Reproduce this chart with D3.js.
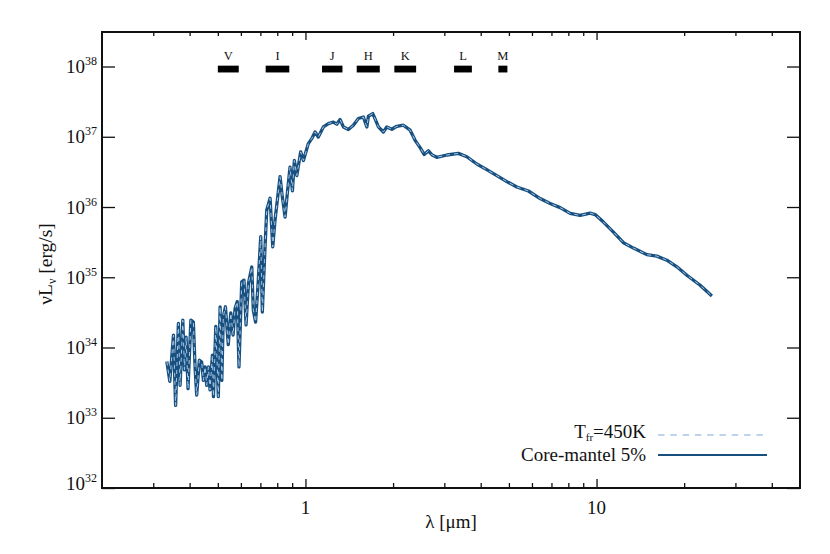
<!DOCTYPE html>
<html>
<head>
<meta charset="utf-8">
<script src="https://cdn.jsdelivr.net/npm/d3@7"></script>
<style>
  html, body { margin: 0; padding: 0; background: #fff; }
  svg { display: block; font-family: "Liberation Serif", "Times New Roman", serif; }
</style>
</head>
<body>
<svg id="chart" width="830" height="554"></svg>
<script>
// ---------- data ----------
const xDomain = [0.2, 50];                // wavelength range, micron
const yDomain = [1e32, 3.1e38];           // nu L_nu range, erg/s
const xMajorTicks = [1, 10];
const xMinorTicks = [0.3, 0.4, 0.5, 0.6, 0.7, 0.8, 0.9, 2, 3, 4, 5, 6, 7, 8, 9, 20, 30, 40];
const yMajorTicks = [1e32, 1e33, 1e34, 1e35, 1e36, 1e37, 1e38];

// photometric bands: [name, lambda_min, lambda_max]
const bandNames = ["V", "I", "J", "H", "K", "L", "M"];
const bandLo    = [0.50, 0.73, 1.14, 1.50, 2.02, 3.24, 4.60];
const bandHi    = [0.59, 0.88, 1.34, 1.80, 2.40, 3.73, 4.94];
const bandLevel = 9.2e37;

// SED, core-mantel 5% model: [lambda (micron), nuL_nu (erg/s)]
const sedCoreMantel = [
  [0.334,6.3e33],[0.342,3.3e33],[0.352,1.5e34],[0.358,1.5e33],[0.366,2.2e34],[0.371,2.9e33],
  [0.379,2.45e34],[0.384,4.8e33],[0.389,1.4e34],[0.395,2.6e33],[0.404,2.45e34],[0.412,2.3e34],
  [0.418,4.8e33],[0.423,2.1e33],[0.432,6.6e33],[0.440,6.2e33],[0.446,3.4e33],[0.452,5.3e33],
  [0.458,2.9e33],[0.464,5.3e33],[0.470,2.5e33],[0.479,7.8e33],[0.483,2.0e33],[0.492,2.0e34],
  [0.502,2.0e33],[0.509,3.8e34],[0.516,3.4e33],[0.522,2.7e34],[0.531,3.8e34],[0.543,1.1e34],
  [0.554,3.1e34],[0.564,1.5e34],[0.573,3.6e34],[0.583,4.5e34],[0.591,5.3e33],[0.604,8.6e34],
  [0.615,9.1e34],[0.625,2.1e34],[0.637,8.2e34],[0.654,1.4e35],[0.662,3.4e34],[0.674,2.3e34],
  [0.687,7.7e34],[0.702,3.8e35],[0.711,3.2e34],[0.723,1.75e35],[0.736,9.0e35],[0.756,1.33e36],
  [0.772,2.7e35],[0.786,6.5e35],[0.818,2.7e36],[0.831,1.5e36],[0.851,7.2e35],[0.868,1.7e36],
  [0.885,3.7e36],[0.902,1.7e36],[0.916,4.6e36],[0.934,2.8e36],[0.963,6.1e36],[0.984,4.6e36],
  [1.023,8.0e36],[1.051,9.4e36],[1.079,1.17e37],[1.107,9.9e36],[1.152,1.38e37],[1.199,1.54e37],
  [1.247,1.62e37],[1.281,1.51e37],[1.315,1.76e37],[1.350,1.38e37],[1.404,1.27e37],[1.461,1.46e37],
  [1.520,1.82e37],[1.581,1.91e37],[1.625,1.38e37],[1.645,1.96e37],[1.703,2.14e37],[1.742,1.72e37],
  [1.781,1.38e37],[1.852,1.17e37],[1.903,1.38e37],[1.980,1.28e37],[2.059,1.41e37],[2.170,1.46e37],
  [2.289,1.24e37],[2.381,8.9e36],[2.477,7.0e36],[2.556,5.6e36],[2.645,6.3e36],[2.724,5.5e36],
  [2.826,5.1e36],[3.059,5.5e36],[3.353,5.8e36],[3.584,5.2e36],[3.879,4.1e36],[4.198,3.4e36],
  [4.544,2.8e36],[4.918,2.3e36],[5.322,1.93e36],[5.835,1.69e36],[6.400,1.32e36],[6.926,1.12e36],
  [7.499,9.8e35],[8.117,8.1e35],[8.782,7.6e35],[9.506,8.2e35],[9.890,7.8e35],[10.56,6.1e35],
  [11.43,4.4e35],[12.37,3.1e35],[13.39,2.6e35],[14.89,2.1e35],[16.11,2.0e35],[17.44,1.75e35],
  [18.88,1.41e35],[20.43,1.07e35],[22.70,7.7e34],[24.90,5.4e34]
];
// SED, T_fr = 450 K model: indistinguishable from the core-mantel curve at this scale
const sedTfr450 = sedCoreMantel;

const legendLabels = ["T_fr=450K", "Core-mantel 5%"];
const colorSolid = "#17507f";
const colorDashed = "#a9c5e6";

// ---------- layout ----------
const W = 830, H = 554;
const plot = { left: 102, right: 800, top: 32, bottom: 488 };

const svg = d3.select("#chart");
svg.append("rect").attr("width", W).attr("height", H).attr("fill", "#fff");

const x = d3.scaleLog().domain(xDomain).range([plot.left, plot.right]);
const y = d3.scaleLog().domain(yDomain).range([plot.bottom, plot.top]);

svg.append("clipPath").attr("id", "clip")
  .append("rect").attr("x", plot.left).attr("y", plot.top)
  .attr("width", plot.right - plot.left).attr("height", plot.bottom - plot.top);

// ---------- curves ----------
const line = d3.line().x(d => x(d[0])).y(d => y(d[1])).curve(d3.curveLinear);
const curves = svg.append("g").attr("clip-path", "url(#clip)");
curves.append("path").datum(sedCoreMantel)
  .attr("d", line).attr("fill", "none")
  .attr("stroke", colorSolid).attr("stroke-width", 3.3).attr("stroke-linejoin", "round");
curves.append("path").datum(sedTfr450)
  .attr("d", line).attr("fill", "none")
  .attr("stroke", colorDashed).attr("stroke-width", 1.0)
  .attr("stroke-dasharray", "4,4").attr("stroke-linejoin", "round");

// ---------- bands ----------
const bands = bandNames.map((n, i) => ({ name: n, lo: bandLo[i], hi: bandHi[i] }));
const bandG = svg.append("g");
bandG.selectAll("rect").data(bands).enter().append("rect")
  .attr("x", d => x(d.lo)).attr("width", d => x(d.hi) - x(d.lo))
  .attr("y", y(bandLevel) - 3.4).attr("height", 6.8)
  .attr("fill", "#000");
bandG.selectAll("text").data(bands).enter().append("text")
  .attr("x", d => (x(d.lo) + x(d.hi)) / 2).attr("y", y(bandLevel) - 9)
  .attr("text-anchor", "middle").attr("font-size", 12.5).attr("fill", "#111")
  .text(d => d.name);

// ---------- axes (ticks inward) ----------
function styleAxis(g) {
  g.select(".domain").remove();
  g.selectAll(".tick line").attr("stroke", "#111").attr("stroke-width", 1.3);
  g.selectAll(".tick text").remove();
}
// bottom
svg.append("g").attr("transform", `translate(0,${plot.bottom})`)
  .call(d3.axisBottom(x).tickValues(xMajorTicks).tickSize(-9).tickSizeOuter(0)).call(styleAxis);
svg.append("g").attr("transform", `translate(0,${plot.bottom})`)
  .call(d3.axisBottom(x).tickValues(xMinorTicks).tickSize(-5).tickSizeOuter(0)).call(styleAxis);
// top
svg.append("g").attr("transform", `translate(0,${plot.top})`)
  .call(d3.axisTop(x).tickValues(xMajorTicks).tickSize(-8).tickSizeOuter(0)).call(styleAxis);
svg.append("g").attr("transform", `translate(0,${plot.top})`)
  .call(d3.axisTop(x).tickValues(xMinorTicks).tickSize(-4).tickSizeOuter(0)).call(styleAxis);
// left / right
svg.append("g").attr("transform", `translate(${plot.left},0)`)
  .call(d3.axisLeft(y).tickValues(yMajorTicks).tickSize(-13).tickSizeOuter(0)).call(styleAxis);
svg.append("g").attr("transform", `translate(${plot.right},0)`)
  .call(d3.axisRight(y).tickValues(yMajorTicks).tickSize(-13).tickSizeOuter(0)).call(styleAxis);

// frame
svg.append("rect")
  .attr("x", plot.left).attr("y", plot.top)
  .attr("width", plot.right - plot.left).attr("height", plot.bottom - plot.top)
  .attr("fill", "none").attr("stroke", "#111").attr("stroke-width", 2);

// x tick labels
svg.append("g").selectAll("text").data(xMajorTicks).enter().append("text")
  .attr("x", d => x(d)).attr("y", plot.bottom + 26)
  .attr("text-anchor", "middle").attr("font-size", 19).attr("fill", "#111")
  .text(d => d3.format("d")(d));

// y tick labels: 10^n
const yl = svg.append("g").selectAll("text").data(yMajorTicks).enter().append("text")
  .attr("x", plot.left - 5)
  .attr("y", (d, i) => y(d) + 6.5 - (i === 0 ? 5 : 0))
  .attr("text-anchor", "end").attr("font-size", 19).attr("fill", "#111");
yl.append("tspan").text("10");
yl.append("tspan").attr("dy", -8).attr("font-size", 12).text(d => Math.round(Math.log10(d)));

// axis titles
svg.append("text")
  .attr("x", (plot.left + plot.right) / 2).attr("y", 528)
  .attr("text-anchor", "middle").attr("font-size", 19).attr("fill", "#111")
  .text("λ [μm]");

const yt = svg.append("text")
  .attr("transform", `translate(52,${(plot.top + plot.bottom) / 2 + 4}) rotate(-90)`)
  .attr("text-anchor", "middle").attr("font-size", 19.5).attr("fill", "#111");
yt.append("tspan").text("νL");
yt.append("tspan").attr("dy", 4).attr("font-size", 12).text("ν");
yt.append("tspan").attr("dy", -4).text(" [erg/s]");

// ---------- legend ----------
const legX = 646, legLineX0 = 658, legLineX1 = 767;
const leg = svg.append("g");
const t1 = leg.append("text").attr("x", legX).attr("y", 438)
  .attr("text-anchor", "end").attr("font-size", 19).attr("fill", "#111");
t1.append("tspan").text("T");
t1.append("tspan").attr("dy", 3).attr("font-size", 11).text("fr");
t1.append("tspan").attr("dy", -3).text("=450K");
leg.append("line").attr("x1", legLineX0).attr("x2", legLineX1).attr("y1", 435).attr("y2", 435)
  .attr("stroke", colorDashed).attr("stroke-width", 1.6).attr("stroke-dasharray", "6.5,5.8");

leg.append("text").attr("x", legX).attr("y", 461)
  .attr("text-anchor", "end").attr("font-size", 19).attr("fill", "#111")
  .text(legendLabels[1]);
leg.append("line").attr("x1", legLineX0).attr("x2", legLineX1).attr("y1", 455).attr("y2", 455)
  .attr("stroke", colorSolid).attr("stroke-width", 2);
</script>
</body>
</html>
